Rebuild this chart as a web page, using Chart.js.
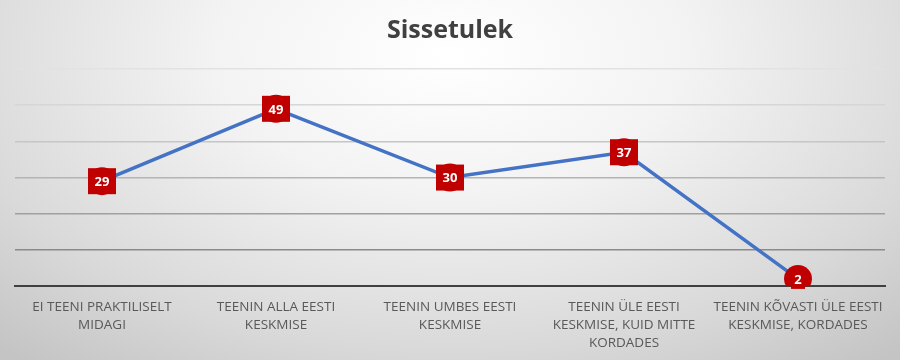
<!DOCTYPE html>
<html lang="et">
<head>
    <meta charset="UTF-8">
    <title>Sissetulek</title>
    <script src="https://cdn.jsdelivr.net/npm/chart.js@4.4.0/dist/chart.umd.min.js"></script>
    <style>
        html, body {
            margin: 0;
            padding: 0;
        }
        body {
            width: 900px;
            height: 360px;
            overflow: hidden;
            /* Excel style radial background */
            background: radial-gradient(ellipse 75% 110% at 50% 15%, #ffffff 0%, #f3f3f3 35%, #d9d9d9 75%, #c4c4c4 100%);
            font-family: "Open Sans", Arial, sans-serif;
        }
        #wrap {
            width: 900px;
            height: 360px;
        }
    </style>
</head>
<body>
    <div id="wrap"><canvas id="incomeChart"></canvas></div>

    <script>
        // Chart data
        const categories = [
            ['EI TEENI PRAKTILISELT', 'MIDAGI'],
            ['TEENIN ALLA EESTI', 'KESKMISE'],
            ['TEENIN UMBES EESTI', 'KESKMISE'],
            ['TEENIN ÜLE EESTI', 'KESKMISE, KUID MITTE', 'KORDADES'],
            ['TEENIN KÕVASTI ÜLE EESTI', 'KESKMISE, KORDADES']
        ];
        const values = [29, 49, 30, 37, 2];
        const yTicks = [0, 10, 20, 30, 40, 50, 60];

        // Gridline shades, lighter towards the top
        const gridShades = ['#3f3f3f', '#8a8a8a', '#a0a0a0', '#b4b4b4', '#c6c6c6', '#d6d6d6', '#e2e2e2'];

        // Draws the red value boxes on top of the markers
        const valueBoxes = {
            id: 'valueBoxes',
            afterDatasetsDraw(chart) {
                const ctx = chart.ctx;
                const meta = chart.getDatasetMeta(0);
                ctx.save();
                ctx.font = 'bold 13px "Open Sans", Arial, sans-serif';
                ctx.textAlign = 'center';
                ctx.textBaseline = 'middle';
                meta.data.forEach((pt, i) => {
                    const txt = String(values[i]);
                    const w = txt.length > 1 ? 28 : 14;
                    const h = txt.length > 1 ? 26 : 20;
                    ctx.fillStyle = '#C00000';
                    ctx.fillRect(pt.x - w / 2, pt.y - h / 2, w, h);
                    ctx.fillStyle = '#ffffff';
                    ctx.fillText(txt, pt.x, pt.y + 1);
                });
                ctx.restore();
            }
        };

        const ctx = document.getElementById('incomeChart').getContext('2d');
        const incomeChart = new Chart(ctx, {
            type: 'line',
            data: {
                labels: categories,
                datasets: [{
                    label: 'Sissetulek',
                    data: values,
                    borderColor: '#4472C4',
                    borderWidth: 3.5,
                    tension: 0,
                    pointStyle: 'circle',
                    pointRadius: 14,
                    pointBackgroundColor: '#C00000',
                    pointBorderWidth: 0,
                    fill: false
                }]
            },
            options: {
                responsive: true,
                maintainAspectRatio: false,
                animation: false,
                layout: {
                    padding: { left: 15, right: 15, top: 0, bottom: -4 }
                },
                plugins: {
                    legend: { display: false },
                    tooltip: { enabled: false },
                    title: {
                        display: true,
                        text: 'Sissetulek',
                        color: '#404040',
                        font: { family: '"Open Sans", Arial, sans-serif', size: 25, weight: 'bold' },
                        padding: { top: 16, bottom: 23 }
                    }
                },
                scales: {
                    x: {
                        offset: true,
                        grid: { display: false, drawTicks: false },
                        border: { display: true, color: '#404040', width: 2 },
                        ticks: {
                            color: '#595959',
                            font: { family: '"Open Sans", Arial, sans-serif', size: 13.5, lineHeight: 1.33 },
                            maxRotation: 0,
                            autoSkip: false,
                            padding: 12
                        }
                    },
                    y: {
                        min: yTicks[0],
                        max: yTicks[yTicks.length - 1],
                        afterBuildTicks(scale) {
                            scale.ticks = yTicks.map(v => ({ value: v }));
                        },
                        border: { display: false },
                        grid: {
                            drawTicks: false,
                            lineWidth: 1.5,
                            color: c => gridShades[c.index] || '#d0d0d0'
                        },
                        ticks: { display: false }
                    }
                }
            },
            plugins: [valueBoxes]
        });
    </script>
</body>
</html>
